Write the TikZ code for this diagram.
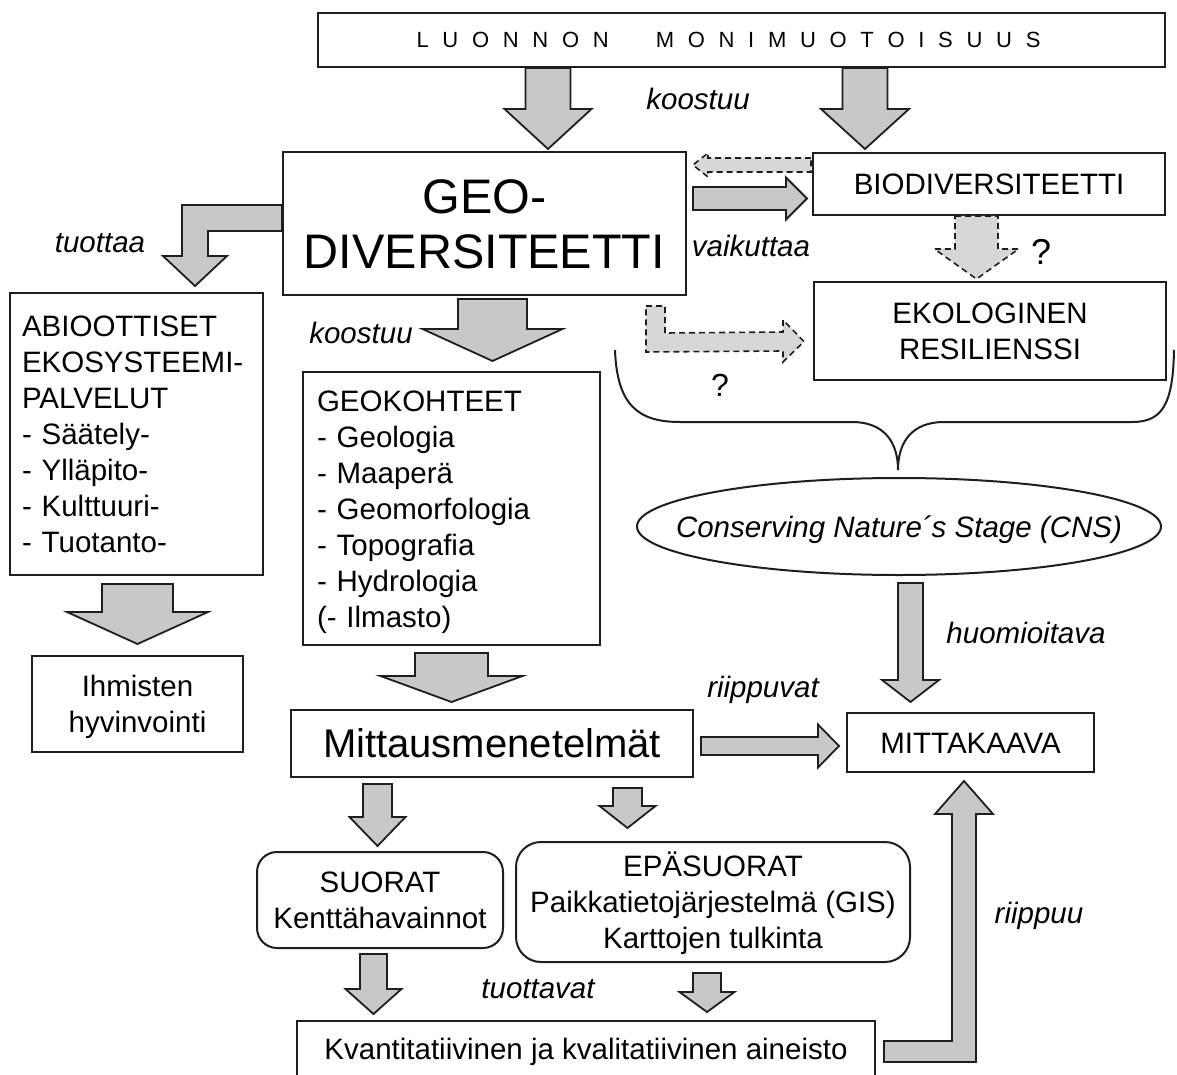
\documentclass[tikz,border=0pt]{standalone}
\usepackage{fontspec}
\setmainfont{Liberation Sans}
\usetikzlibrary{shapes.geometric,calc}
\definecolor{afill}{RGB}{200,200,200}
\definecolor{dfill}{RGB}{215,215,215}
\definecolor{ink}{RGB}{30,30,30}
\newcommand\bs{\rule[-7.5pt]{0pt}{36pt}}
\newcommand\ls{\hspace{13.7pt}}
% down block arrow: [style]{from}{to}{cx}{shaft half}{head len}{head half}{top gap}{tip gap}
\newcommand\dnarrow[9][blk]{%
  \coordinate (T) at ($(#2.south -| #4,0)+(0,#8)$);
  \coordinate (P) at ($(#3.north -| #4,0)+(0,-#9)$);
  \draw[#1] ($(T)+(-#5,0)$) -- ($(T)+(#5,0)$) -- ($(P)+(#5,-#6)$) -- ($(P)+(#7,-#6)$) -- (P)
    -- ($(P)+(-#7,-#6)$) -- ($(P)+(-#5,-#6)$) -- cycle;}
% right block arrow: [style]{from}{to}{cy}{shaft half}{head len}{head half}{start gap}{tip gap}
\newcommand\rtarrow[9][blk]{%
  \coordinate (S) at ($(#2.east |- 0,#4)+(#8,0)$);
  \coordinate (P) at ($(#3.west |- 0,#4)+(-#9,0)$);
  \draw[#1] ($(S)+(0,-#5)$) -- ($(P)+(-#6,-#5)$) -- ($(P)+(-#6,-#7)$) -- (P)
    -- ($(P)+(-#6,#7)$) -- ($(P)+(-#6,#5)$) -- ($(S)+(0,#5)$) -- cycle;}
\begin{document}
\begin{tikzpicture}[x=1pt,y=-1pt,
  box/.style={draw=ink, line width=2pt, inner sep=0pt, align=center,
    font=\fontsize{29.5}{36}\selectfont},
  lbl/.style={font=\fontsize{29.5}{36}\selectfont\itshape, inner sep=0pt, anchor=base},
  blk/.style={fill=afill, draw=ink, line width=1.8pt, line join=miter},
  dsh/.style={fill=dfill, draw=ink, line width=1.6pt, dash pattern=on 6pt off 4pt}]
\useasboundingbox (0,0) rectangle (1177,1075);
\clip (0,0) rectangle (1177,1075);

% ---- boxes ----
\node[box, minimum width=847pt, minimum height=54pt, font=\fontsize{22}{26}\selectfont] (luonto) at (741.5,40)
  {L\ls U\ls O\ls N\ls N\ls O\ls N\hspace{47pt}M\ls O\ls N\ls I\ls M\ls U\ls O\ls T\ls O\ls I\ls S\ls U\ls U\ls S\hspace{26pt}};
\node[box, minimum width=403pt, minimum height=143pt, font=\fontsize{48.5}{55}\selectfont] (geo) at (484.5,223.5)
  {\rule[-10.1pt]{0pt}{55pt}GEO-\\\rule[-10.1pt]{0pt}{55pt}DIVERSITEETTI};
\node[box, minimum width=352pt, minimum height=62pt] (bio) at (989,184) {\bs BIODIVERSITEETTI};
\node[box, minimum width=352pt, minimum height=98pt] (eko) at (990,331) {\bs EKOLOGINEN\\\bs RESILIENSSI};
\node[box, minimum width=253pt, minimum height=282pt, text width=229pt, inner xsep=12pt, align=left] (abio) at (136.5,434)
  {\bs ABIOOTTISET\\\bs EKOSYSTEEMI-\\\bs PALVELUT\\\bs - Säätely-\\\bs - Ylläpito-\\\bs - Kulttuuri-\\\bs - Tuotanto-};
\node[box, minimum width=211pt, minimum height=96pt] (ihm) at (137.5,704) {\bs Ihmisten\\\bs hyvinvointi};
\node[box, minimum width=297pt, minimum height=273pt, text width=269pt, inner xsep=14pt, align=left] (geok) at (451.5,508.5)
  {\bs GEOKOHTEET\\\bs - Geologia\\\bs - Maaperä\\\bs - Geomorfologia\\\bs - Topografia\\\bs - Hydrologia\\\bs (- Ilmasto)};
\node[box, minimum width=402pt, minimum height=67pt, font=\fontsize{40}{46}\selectfont] (mitt) at (492,743.5)
  {\rule[-5.7pt]{0pt}{40pt}Mittausmenetelmät};
\node[box, minimum width=247pt, minimum height=59pt] (mk) at (970.5,742.5) {\bs MITTAKAAVA};
\node[box, minimum width=246pt, minimum height=96pt, rounded corners=20pt] (suo) at (380,900)
  {\bs SUORAT\\\bs Kenttähavainnot};
\node[box, minimum width=394pt, minimum height=120pt, rounded corners=25pt] (epa) at (713,902)
  {\bs EPÄSUORAT\\\bs Paikkatietojärjestelmä (GIS)\\\bs Karttojen tulkinta};
\node[box, minimum width=578pt, minimum height=55pt] (kvant) at (586,1048.5)
  {\bs Kvantitatiivinen ja kvalitatiivinen aineisto};
\node[draw=ink, line width=2pt, ellipse, minimum width=524pt, minimum height=97pt, inner sep=0pt,
  font=\fontsize{29.5}{36}\selectfont\itshape] (cns) at (899,526.5)
  {\makebox[0pt]{\bs Conserving Nature´s Stage (CNS)}};

% ---- brace ----
\draw[ink, line width=2pt] (615,350) .. controls (617,405) and (638,422) .. (680,422) -- (852,422)
  .. controls (884,422) and (898,442) .. (898,470)
  .. controls (898,442) and (912,422) .. (944,422) -- (1132,422)
  .. controls (1162,422) and (1173,405) .. (1174,350);

% ---- block arrows ----
\dnarrow{luonto}{geo}{548}{22.5}{40}{43.5}{0}{2}
\dnarrow{luonto}{bio}{865}{22.5}{40}{44}{0}{3}
\rtarrow{geo}{bio}{198.5}{11.5}{21}{21}{6}{5}
% dashed left arrow bio -> geo
\coordinate (S) at ($(bio.west |- 0,165)+(-1,0)$);
\coordinate (P) at ($(geo.east |- 0,165)+(6,0)$);
\draw[dsh] ($(S)+(0,-7)$) -- ($(P)+(15,-7)$) -- ($(P)+(15,-12)$) -- (P) -- ($(P)+(15,12)$)
  -- ($(P)+(15,7)$) -- ($(S)+(0,7)$) -- cycle;
\dnarrow[dsh]{bio}{eko}{976.5}{21.5}{30}{42}{0}{2}
% dashed bent arrow geo -> eko
\coordinate (Q) at ($(geo.south -| 646,0)+(0,10)$);
\coordinate (P) at ($(eko.west |- 0,341.5)+(-9,0)$);
\draw[dsh] (Q) -- ($(Q)+(19,0)$) -- ($(Q)+(19,27)$) -- ($(P)+(-21,-9.5)$) -- ($(P)+(-21,-21.5)$) -- (P)
  -- ($(P)+(-21,20.5)$) -- ($(P)+(-21,9.5)$) -- ($(Q)+(0,46)$) -- cycle;
% bent arrow geo -> abio
\coordinate (A) at (geo.west |- 0,218);
\coordinate (P) at ($(abio.north -| 195,0)+(0,-6)$);
\draw[blk] ($(A)+(0,-13)$) -- ($(P |- A)+(-13,-13)$) -- ($(P)+(-13,-30)$) -- ($(P)+(-32,-30)$) -- (P)
  -- ($(P)+(32,-30)$) -- ($(P)+(13,-30)$) -- ($(P |- A)+(13,13)$) -- ($(A)+(0,13)$) -- cycle;
\dnarrow{geo}{geok}{492.5}{34.5}{32}{70}{3}{10}
\dnarrow{abio}{ihm}{137.5}{35.5}{32}{70.5}{8}{11}
\dnarrow{geok}{mitt}{451.5}{36.5}{26}{71}{7}{7}
\rtarrow{mitt}{mk}{746}{9}{21}{21.5}{7}{7}
\dnarrow{mitt}{suo}{377.5}{14.5}{29}{28}{6}{5}
\dnarrow{mitt}{epa}{627.5}{14.5}{22}{28}{10}{13}
\dnarrow{suo}{kvant}{373.5}{13.5}{25}{28}{5}{6}
\dnarrow{epa}{kvant}{707}{14}{20}{27.5}{10}{8}
\dnarrow{cns}{mk}{910.5}{12.5}{22}{28.5}{7}{10}
% bent arrow kvant -> mk
\coordinate (A) at ($(kvant.east |- 0,1051.5)+(8,0)$);
\coordinate (P) at ($(mk.south -| 964,0)+(0,8)$);
\draw[blk] ($(A)+(0,-10.5)$) -- ($(P |- A)+(-12,-10.5)$) -- ($(P)+(-12,33)$) -- ($(P)+(-29,33)$) -- (P)
  -- ($(P)+(29,33)$) -- ($(P)+(12,33)$) -- ($(P |- A)+(12,10.5)$) -- ($(A)+(0,10.5)$) -- cycle;

% ---- labels ----
\node[lbl] (koostuu1) at (698,110) {koostuu};
\node[lbl] (koostuu2) at (361,343) {koostuu};
\node[lbl] (tuottaa) at (100,253) {tuottaa};
\node[lbl] (vaikuttaa) at (751,257) {vaikuttaa};
\node[lbl] (riippuvat) at (763,697) {riippuvat};
\node[lbl] (huomioitava) at (1026,643) {huomioitava};
\node[lbl] (riippuu) at (1039,923) {riippuu};
\node[lbl] (tuottavat) at (538,998) {tuottavat};
\node[lbl, font=\fontsize{36}{40}\selectfont] (q1) at (1041,265) {?};
\node[lbl, font=\fontsize{32}{38}\selectfont] (q2) at (720,396) {?};
\end{tikzpicture}
\end{document}
